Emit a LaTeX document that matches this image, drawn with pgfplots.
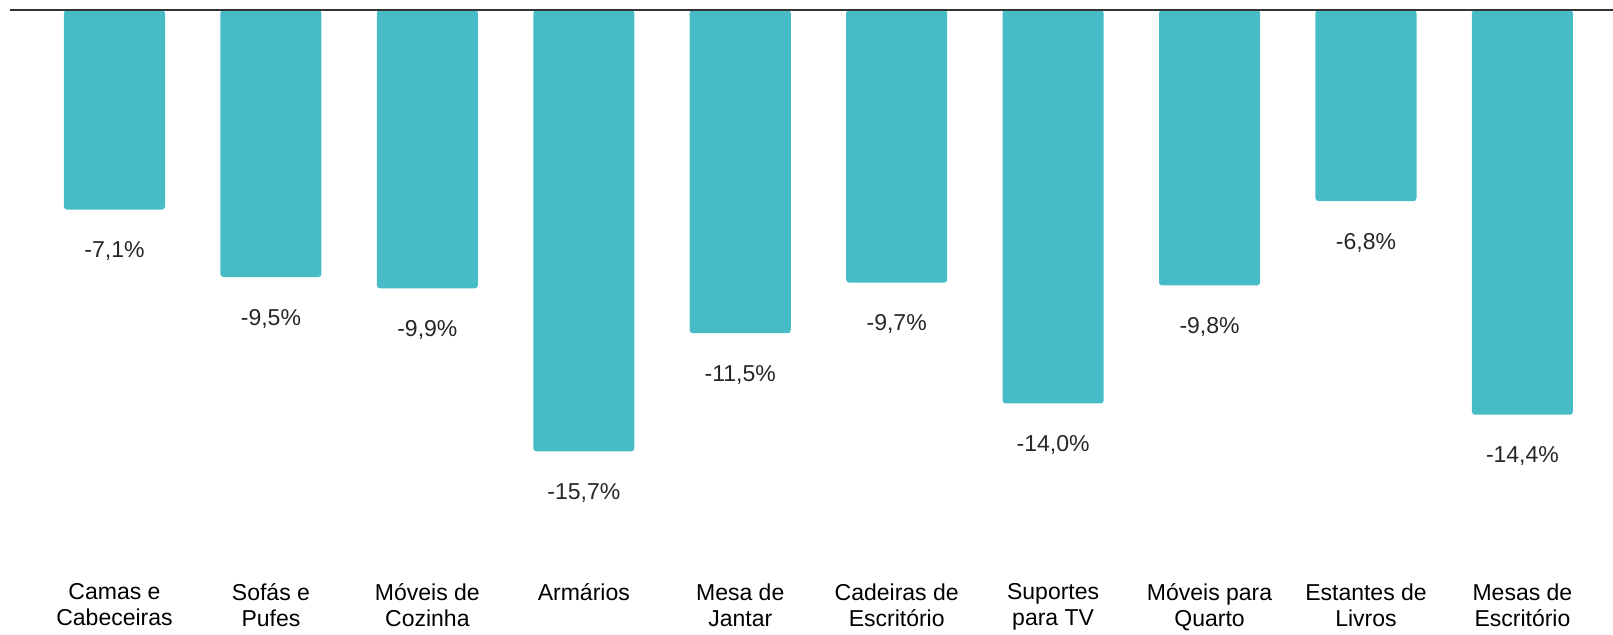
\documentclass[border=0pt]{standalone}
\usepackage{pgfplots}
\pgfplotsset{compat=1.18}
\usepackage{fontspec}
\setmainfont{Liberation Sans}
\definecolor{barteal}{RGB}{71,188,198}
\definecolor{axisgrey}{RGB}{51,51,51}
\begin{document}
\begin{tikzpicture}
\begin{axis}[
 at={(5pt,27pt)},anchor=south west,
 scale only axis,width=801.5pt,height=285pt,
 xmin=-0.668,xmax=9.579,ymin=-20.28,ymax=0,
 axis line style={draw=none},
 ytick=\empty,xtick=data,major tick length=0pt,
 xticklabels={{Camas e\\Cabeceiras},{Sofás e\\Pufes},{Móveis de\\Cozinha},{Armários\\\mbox{}},{Mesa de\\Jantar},{Cadeiras de\\Escritório},{Suportes\\para TV},{Móveis para\\Quarto},{Estantes de\\Livros},{Mesas de\\Escritório}},
 xticklabel style={font=\fontsize{11.5}{13}\selectfont,align=center,anchor=north,inner sep=0pt,yshift=-1.6pt,execute at begin node=\strut},
 ybar,bar width=50.5pt,
 point meta=explicit symbolic,
 nodes near coords,
 every node near coord/.append style={anchor=base,yshift=-24pt,font=\fontsize{11.5}{13.3}\selectfont,text=black!85},
 after end axis/.code={\draw[axisgrey,line width=1pt] (rel axis cs:0,1) -- (rel axis cs:1,1);},
]
\addplot[fill=barteal,draw=none,rounded corners=1.5pt] coordinates {
 (0,-7.1) [-7,1\%]
 (1,-9.5) [-9,5\%]
 (2,-9.9) [-9,9\%]
 (3,-15.7) [-15,7\%]
 (4,-11.5) [-11,5\%]
 (5,-9.7) [-9,7\%]
 (6,-14.0) [-14,0\%]
 (7,-9.8) [-9,8\%]
 (8,-6.8) [-6,8\%]
 (9,-14.4) [-14,4\%]
};
\end{axis}
\pgfresetboundingbox
\path[use as bounding box] (0,0) rectangle (806.5pt,317pt);
\end{tikzpicture}
\end{document}
